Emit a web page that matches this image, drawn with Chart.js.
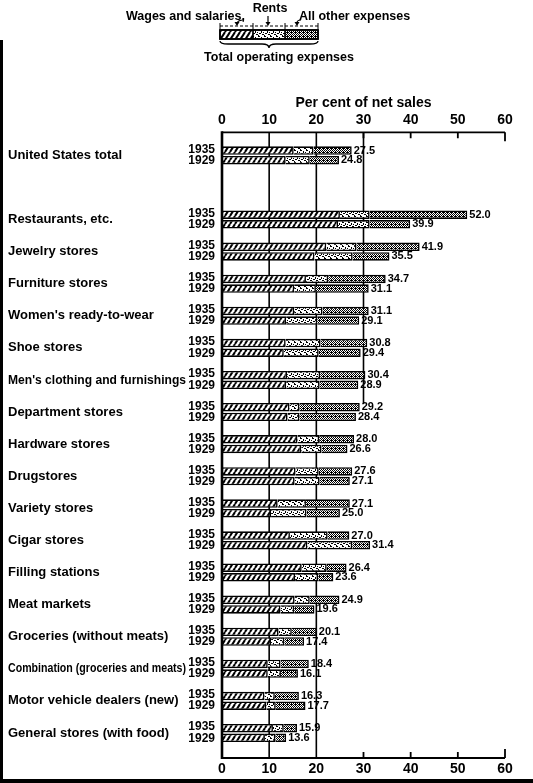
<!DOCTYPE html>
<html>
<head>
  <title>Operating expenses, per cent of net sales, 1935 and 1929</title>
  <script src="https://cdn.jsdelivr.net/npm/chart.js"></script>
  <style>
    body {
      margin: 0;
      background: #fff;
    }
    .chart-box {
      position: relative;
      width: 533px;
      height: 783px;
    }
  </style>
</head>
<body>
  <div class="chart-box">
    <canvas id="expenseChart"></canvas>
  </div>

  <script>
    // Rows of the chart ('' is the empty row under the US total)
    const categories = [
      'United States total', '',
      'Restaurants, etc.', 'Jewelry stores', 'Furniture stores',
      "Women's ready-to-wear", 'Shoe stores', "Men's clothing and furnishings",
      'Department stores', 'Hardware stores', 'Drugstores', 'Variety stores',
      'Cigar stores', 'Filling stations', 'Meat markets',
      'Groceries (without meats)', 'Combination (groceries and meats)',
      'Motor vehicle dealers (new)', 'General stores (with food)'
    ];

    // 1935 bars
    const wages1935 = [15.2, null, 25.0, 22.1, 17.8, 15.3, 13.5, 13.8, 14.3, 16.0, 15.6, 11.8, 14.4, 16.9, 15.4, 12.0, 9.7, 9.0, 10.8];
    const rents1935 = [4.2, null, 6.3, 6.4, 4.7, 6.0, 7.4, 7.0, 2.1, 4.6, 4.9, 6.0, 8.0, 5.3, 3.2, 2.8, 2.7, 2.2, 2.3];
    const other1935 = [8.1, null, 20.7, 13.4, 12.2, 9.8, 9.9, 9.6, 12.8, 7.4, 7.1, 9.3, 4.6, 4.2, 6.3, 5.3, 6.0, 5.1, 2.8];
    const total1935 = ['27.5', '', '52.0', '41.9', '34.7', '31.1', '30.8', '30.4', '29.2', '28.0', '27.6', '27.1', '27.0', '26.4', '24.9', '20.1', '18.4', '16.3', '15.9'];

    // 1929 bars
    const wages1929 = [13.5, null, 24.6, 19.6, 15.3, 13.6, 13.1, 13.6, 13.9, 16.8, 15.4, 10.4, 18.1, 15.5, 12.4, 10.4, 9.7, 9.4, 9.1];
    const rents1929 = [5.1, null, 6.7, 8.1, 4.6, 6.6, 7.4, 7.1, 2.5, 4.3, 5.3, 7.5, 9.5, 4.9, 2.9, 2.8, 2.8, 2.0, 2.2];
    const other1929 = [6.2, null, 8.6, 7.8, 11.2, 8.9, 8.9, 8.2, 12.0, 5.5, 6.4, 7.1, 3.8, 3.2, 4.3, 4.2, 3.6, 6.3, 2.3];
    const total1929 = ['24.8', '', '39.9', '35.5', '31.1', '29.1', '29.4', '28.9', '28.4', '26.6', '27.1', '25.0', '31.4', '23.6', '19.6', '17.4', '16.1', '17.7', '13.6'];

    const years = ['1935', '1929'];
    const xTicks = [0, 10, 20, 30, 40, 50, 60];
    const fullGridLines = [10, 20];
    const partGridLines = [30];   // runs down to the department stores row

    const FONT = "'Liberation Sans', Arial, sans-serif";

    const canvas = document.getElementById('expenseChart');
    const mainCtx = canvas.getContext('2d');

    function makePattern(w, h, draw) {
      const c = document.createElement('canvas');
      c.width = w;
      c.height = h;
      const g = c.getContext('2d');
      g.fillStyle = '#fff';
      g.fillRect(0, 0, w, h);
      g.fillStyle = '#000';
      g.strokeStyle = '#000';
      draw(g, w, h);
      return mainCtx.createPattern(c, 'repeat');
    }

    // wages: slanted hatching
    const wagesFill = makePattern(5, 8, (g, w, h) => {
      g.lineWidth = 2;
      for (let k = -1; k <= 1; k++) {
        g.beginPath();
        g.moveTo(k * w, h);
        g.lineTo(k * w + w, 0);
        g.stroke();
      }
    });

    // rents: coarse mottle
    const rentsFill = makePattern(6, 6, (g) => {
      [[0, 0, 2, 1], [3, 1, 1, 2], [1, 3, 2, 1], [4, 4, 2, 1], [0, 5, 1, 1], [5, 2, 1, 1]].forEach(r => g.fillRect(...r));
    });

    // all other: small open dots on black net
    const otherFill = makePattern(4, 4, (g) => {
      for (let x = 0; x < 4; x++) {
        for (let y = 0; y < 4; y++) {
          if ((x + y) % 2 === 0 || (x === 3 && y === 0)) g.fillRect(x, y, 1, 1);
        }
      }
    });

    function segment(data, fill, stack) {
      return {
        data: data,
        stack: stack,
        backgroundColor: fill,
        borderColor: '#000',
        borderWidth: 1.6,
        categoryPercentage: 0.6,
        barPercentage: 0.88
      };
    }

    // grid lines, axis frame and the page border
    const framePlugin = {
      id: 'frame',
      beforeDatasetsDraw(chart) {
        const ctx = chart.ctx;
        const x = chart.scales.x;
        const y = chart.scales.y;
        const area = chart.chartArea;
        const top = area.top - 7;
        const bottom = area.bottom + 9;
        ctx.save();
        ctx.strokeStyle = '#000';
        ctx.lineWidth = 1.6;
        fullGridLines.forEach(v => {
          ctx.beginPath();
          ctx.moveTo(x.getPixelForValue(v), top);
          ctx.lineTo(x.getPixelForValue(v), bottom);
          ctx.stroke();
        });
        const stopY = y.getPixelForValue(categories.indexOf('Department stores')) - 8;
        partGridLines.forEach(v => {
          ctx.beginPath();
          ctx.moveTo(x.getPixelForValue(v), top);
          ctx.lineTo(x.getPixelForValue(v), stopY);
          ctx.stroke();
        });
        ctx.restore();
      },
      afterDatasetsDraw(chart) {
        const ctx = chart.ctx;
        const x = chart.scales.x;
        const area = chart.chartArea;
        const top = area.top - 7;
        const bottom = area.bottom + 9;
        const x0 = x.getPixelForValue(0);
        const x60 = x.getPixelForValue(60);
        ctx.save();
        ctx.strokeStyle = '#000';
        ctx.lineWidth = 1.8;
        ctx.beginPath();
        ctx.moveTo(x0, top); ctx.lineTo(x60, top);
        ctx.moveTo(x0, bottom); ctx.lineTo(x60, bottom);
        ctx.stroke();
        xTicks.filter(v => v >= 30).forEach(v => {
          const px = x.getPixelForValue(v);
          const len = v === 60 ? 9 : 6;
          ctx.beginPath();
          ctx.moveTo(px, top); ctx.lineTo(px, top + len);
          ctx.moveTo(px, bottom); ctx.lineTo(px, bottom - len);
          ctx.stroke();
        });
        // zero axis
        ctx.lineWidth = 2.6;
        ctx.beginPath();
        ctx.moveTo(x0, top - 1); ctx.lineTo(x0, bottom + 1);
        ctx.stroke();
        // page border, left and bottom
        ctx.fillStyle = '#000';
        ctx.fillRect(0, 40, 3, 743);
        ctx.fillRect(0, 779, 533, 4);
        ctx.restore();
      }
    };

    // row names, year labels and totals
    const labelPlugin = {
      id: 'rowLabels',
      afterDatasetsDraw(chart) {
        const ctx = chart.ctx;
        const y = chart.scales.y;
        const meta35 = chart.getDatasetMeta(2);
        const meta29 = chart.getDatasetMeta(5);
        ctx.save();
        ctx.fillStyle = '#000';
        ctx.textBaseline = 'middle';
        categories.forEach((name, i) => {
          if (!name) return;
          const cy = y.getPixelForValue(i);
          ctx.font = 'bold 13px ' + FONT;
          ctx.textAlign = 'left';
          ctx.fillText(name, 8, cy, 178);

          const b35 = meta35.data[i];
          const b29 = meta29.data[i];
          ctx.font = 'bold 12px ' + FONT;
          ctx.textAlign = 'right';
          ctx.fillText(years[0], 215, b35.y - 1);
          ctx.fillText(years[1], 215, b29.y + 0.5);

          ctx.font = 'bold 11px ' + FONT;
          ctx.textAlign = 'left';
          ctx.fillText(total1935[i], b35.x + 2, b35.y);
          ctx.fillText(total1929[i], b29.x + 2, b29.y);
        });
        ctx.restore();
      }
    };

    function arrowHead(ctx, px, py) {
      ctx.beginPath();
      ctx.moveTo(px - 2.5, py - 4);
      ctx.lineTo(px + 2.5, py - 4);
      ctx.lineTo(px, py);
      ctx.closePath();
      ctx.fill();
    }

    // explanatory key at the top
    const keyPlugin = {
      id: 'key',
      afterDraw(chart) {
        const ctx = chart.ctx;
        ctx.save();
        ctx.strokeStyle = '#000';

        const parts = [[220, 253, wagesFill], [253, 285, rentsFill], [285, 318, otherFill]];
        parts.forEach(([a, b, fill]) => {
          ctx.fillStyle = fill;
          ctx.fillRect(a, 30, b - a, 9);
        });
        ctx.lineWidth = 1.2;
        parts.forEach(([a, b]) => ctx.strokeRect(a, 30, b - a, 9));
        ctx.lineWidth = 1.8;
        ctx.strokeRect(220, 30, 98, 9);

        ctx.fillStyle = '#000';
        ctx.lineWidth = 1;
        ctx.setLineDash([3, 2]);
        ctx.beginPath();
        ctx.moveTo(220, 26); ctx.lineTo(318, 26);
        ctx.stroke();
        ctx.setLineDash([]);
        [220, 253, 285, 318].forEach(px => {
          ctx.beginPath();
          ctx.moveTo(px, 23); ctx.lineTo(px, 29);
          ctx.stroke();
        });

        ctx.lineWidth = 1.2;
        ctx.beginPath();
        ctx.moveTo(244, 20); ctx.quadraticCurveTo(238, 20, 237, 23);
        ctx.moveTo(268, 16); ctx.lineTo(268, 22);
        ctx.moveTo(301, 20); ctx.quadraticCurveTo(297, 20, 297, 23);
        ctx.stroke();
        arrowHead(ctx, 237, 26);
        arrowHead(ctx, 268, 26);
        arrowHead(ctx, 297, 26);

        // brace under the key bar
        ctx.lineWidth = 1.3;
        ctx.beginPath();
        ctx.moveTo(220, 41);
        ctx.quadraticCurveTo(220, 44, 228, 44);
        ctx.lineTo(262, 44);
        ctx.quadraticCurveTo(269, 44, 269, 48);
        ctx.quadraticCurveTo(269, 44, 276, 44);
        ctx.lineTo(310, 44);
        ctx.quadraticCurveTo(318, 44, 318, 41);
        ctx.stroke();

        ctx.font = 'bold 12.5px ' + FONT;
        ctx.textBaseline = 'middle';
        ctx.textAlign = 'right';
        ctx.fillText('Wages and salaries,', 245, 17);
        ctx.textAlign = 'center';
        ctx.fillText('Rents', 270, 9);
        ctx.textAlign = 'left';
        ctx.fillText('All other expenses', 299, 17);
        ctx.textAlign = 'center';
        ctx.fillText('Total operating expenses', 279, 58);
        ctx.restore();
      }
    };

    const tickFont = { family: FONT, size: 14, weight: 'bold' };

    new Chart(canvas, {
      type: 'bar',
      data: {
        labels: categories,
        datasets: [
          segment(wages1935, wagesFill, '1935'),
          segment(rents1935, rentsFill, '1935'),
          segment(other1935, otherFill, '1935'),
          segment(wages1929, wagesFill, '1929'),
          segment(rents1929, rentsFill, '1929'),
          segment(other1929, otherFill, '1929')
        ]
      },
      options: {
        indexAxis: 'y',
        responsive: true,
        maintainAspectRatio: false,
        animation: false,
        layout: { padding: { left: 222, right: 28, top: 94.3, bottom: 8 } },
        plugins: {
          legend: { display: false },
          tooltip: { enabled: false }
        },
        scales: {
          y: { display: false, offset: true },
          x: {
            stacked: true,
            position: 'top',
            min: 0,
            max: 60,
            afterBuildTicks: s => { s.ticks = xTicks.map(v => ({ value: v })); },
            afterFit: s => { s.height = 45; },
            ticks: { color: '#000', font: tickFont, padding: 11, maxRotation: 0 },
            grid: { display: false, drawTicks: false },
            border: { display: false },
            title: {
              display: true,
              text: 'Per cent of net sales',
              color: '#000',
              font: { family: FONT, size: 14, weight: 'bold' },
              padding: 0
            }
          },
          x2: {
            type: 'linear',
            position: 'bottom',
            min: 0,
            max: 60,
            afterBuildTicks: s => { s.ticks = xTicks.map(v => ({ value: v })); },
            afterFit: s => { s.height = 26; },
            ticks: { color: '#000', font: tickFont, padding: 12, maxRotation: 0 },
            grid: { display: false, drawTicks: false },
            border: { display: false }
          }
        }
      },
      plugins: [framePlugin, labelPlugin, keyPlugin]
    });
  </script>
</body>
</html>
